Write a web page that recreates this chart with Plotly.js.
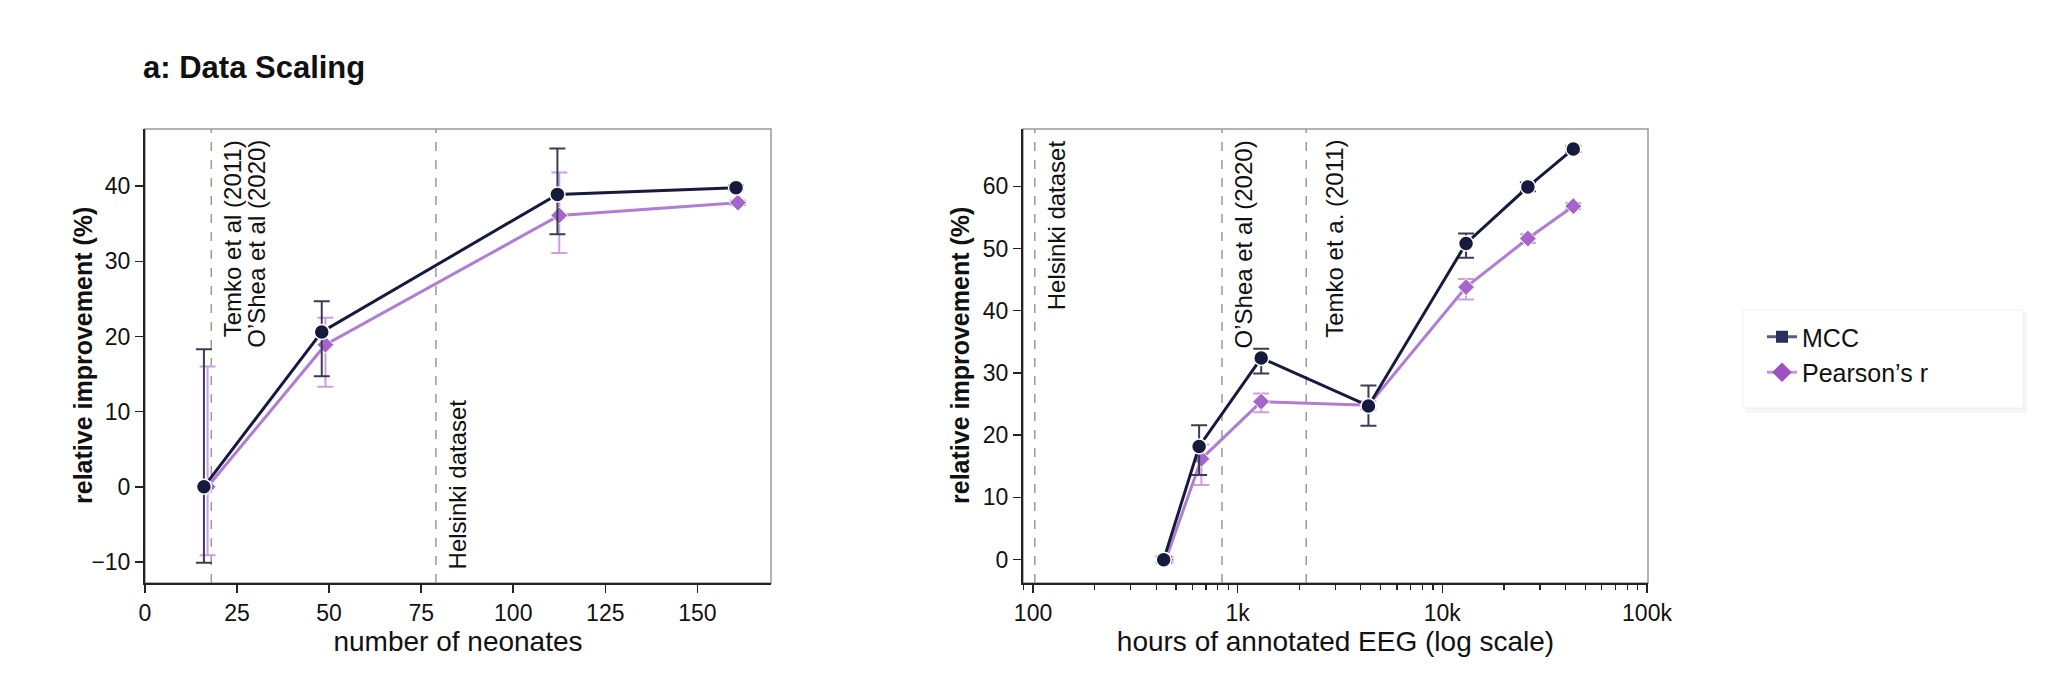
<!DOCTYPE html>
<html>
<head>
<meta charset="utf-8">
<script src="https://cdn.plot.ly/plotly-3.0.1.min.js"></script>
<style>
html,body{margin:0;padding:0;background:#fff;}
#chart{width:2065px;height:690px;}
</style>
</head>
<body>
<div id="chart"></div>
<script>
// ---- data: panel 1 (number of neonates) ----
const neonatesMCC = [16, 48, 112, 160.5];
const neonatesPear = [17, 49, 112.5, 161];
const mccNeo = [0, 20.6, 38.9, 39.8];
const mccNeoHi = [18.3, 24.7, 45.0, 40.1];
const mccNeoLo = [-10.1, 14.7, 33.6, 39.5];
const pearNeo = [0, 18.9, 36.1, 37.8];
const pearNeoHi = [16.0, 22.5, 41.8, 38.1];
const pearNeoLo = [-9.1, 13.3, 31.1, 37.5];
const neoRefX = [18, 79];

// ---- data: panel 2 (hours of annotated EEG) ----
const hoursMCC = [435, 648, 1303, 4355, 13060, 26190, 43650];
const hoursPear = [445, 665, 1303, 4355, 13060, 26190, 43650];
const mccHrs = [0, 18.2, 32.4, 24.7, 50.8, 59.9, 66.0];
const mccHrsHi = [0.5, 21.6, 33.9, 28.0, 52.4, 60.6, 66.5];
const mccHrsLo = [-0.5, 13.6, 29.9, 21.5, 48.5, 59.2, 65.5];
const pearHrs = [0, 16.2, 25.4, 24.8, 43.8, 51.6, 56.8];
const pearHrsHi = [0.4, 18.5, 26.7, 25.5, 45.1, 52.3, 57.3];
const pearHrsLo = [-0.4, 12.0, 23.7, 24.1, 41.8, 50.9, 56.3];
const hrsRefX = [102, 838, 2163];

const seriesNames = ["MCC", "Pearson\u2019s r"];

const W = 2065, H = 690;
const px = v => v / W, py = v => 1 - v / H;

const MCC_C = "#151a3e", MCC_ERR = "#3c3c52";
const PEAR_C = "#b07dd4", PEAR_M = "#a565cb", PEAR_ERR = "#c9a0e2";

function plus(hi, v){ return hi.map((h,i)=>h - v[i]); }
function minus(lo, v){ return lo.map((l,i)=>v[i] - l); }

function series(x, y, hi, lo, xa, ya, isMCC){
  return {
    type: "scatter", mode: "lines+markers", x: x, y: y, xaxis: xa, yaxis: ya,
    showlegend: false, cliponaxis: false,
    line: {color: isMCC ? MCC_C : PEAR_C, width: 3},
    marker: isMCC ? {symbol: "circle", size: 15, color: MCC_C, line: {color: "#ffffff", width: 1.5}}
                  : {symbol: "diamond", size: 13, color: PEAR_M, line: {color: "#ffffff", width: 1}},
    error_y: {type: "data", symmetric: false, array: plus(hi, y), arrayminus: minus(lo, y),
              color: isMCC ? MCC_ERR : PEAR_ERR, thickness: 2, width: 8}
  };
}

const traces = [
  series(neonatesPear, pearNeo, pearNeoHi, pearNeoLo, "x", "y", false),
  series(neonatesMCC, mccNeo, mccNeoHi, mccNeoLo, "x", "y", true),
  series(hoursPear, pearHrs, pearHrsHi, pearHrsLo, "x2", "y2", false),
  series(hoursMCC, mccHrs, mccHrsHi, mccHrsLo, "x2", "y2", true),
  // legend entries
  {type: "scatter", mode: "lines+markers", x: [null], y: [null], xaxis: "x2", yaxis: "y2",
   name: seriesNames[0], legendgroup: "a", showlegend: true,
   line: {color: "#5b5b7c", width: 3}, marker: {symbol: "square", size: 12, color: "#2b2d5e"}},
  {type: "scatter", mode: "lines+markers", x: [null], y: [null], xaxis: "x2", yaxis: "y2",
   name: seriesNames[1], legendgroup: "b", showlegend: true,
   line: {color: "#c693e2", width: 3}, marker: {symbol: "diamond", size: 15, color: "#9c50c4"}}
];

const tickFont = {family: "Liberation Sans, Arial, sans-serif", size: 23, color: "#111"};
const titleFont = {family: "Liberation Sans, Arial, sans-serif", size: 28, color: "#111"};
const ytitleFont = {family: "Liberation Sans, Arial, sans-serif", size: 25, color: "#111", weight: "bold"};
const annFont = {family: "Liberation Sans, Arial, sans-serif", size: 24, color: "#111"};

const axBase = {
  showgrid: false, zeroline: false, showline: true, linecolor: "#222", linewidth: 2,
  ticks: "outside", ticklen: 8, tickwidth: 1.5, tickcolor: "#222", tickfont: tickFont
};

const dom1 = [px(145), px(771)], dom2 = [px(1023), px(1648)], domY = [py(583), py(129)];

const shapes = [];
// frame boxes
[["x","y"],["x2","y2"]].forEach(([xa,ya])=>{
  shapes.push({type:"rect", xref: xa+" domain", yref: ya+" domain", x0:0, x1:1, y0:0, y1:1,
    line:{color:"#9a9a9a", width:1.5}, layer:"below"});
});
neoRefX.forEach(v=>shapes.push({type:"line", xref:"x", yref:"y domain", x0:v, x1:v, y0:0, y1:1,
  line:{color:"#9a9a9a", width:1.5, dash:"dash"}, layer:"below"}));
hrsRefX.forEach(v=>shapes.push({type:"line", xref:"x2", yref:"y2 domain", x0:v, x1:v, y0:0, y1:1,
  line:{color:"#9a9a9a", width:1.5, dash:"dash"}, layer:"below"}));
// legend box + shadow
shapes.push({type:"rect", xref:"paper", yref:"paper", x0:px(1745), x1:px(2027), y0:py(413), y1:py(312),
  fillcolor:"rgba(0,0,0,0.035)", line:{width:0}, layer:"above"});
shapes.push({type:"rect", xref:"paper", yref:"paper", x0:px(1743), x1:px(2023), y0:py(408), y1:py(310),
  fillcolor:"#ffffff", line:{color:"#f0f0f0", width:1}, layer:"above"});

const annotations = [
  {text:"Temko et al (2011)", xref:"x", yref:"y domain", x:neoRefX[0], y:1, xanchor:"left", yanchor:"top",
   xshift:6, yshift:-9, textangle:-90, showarrow:false, font:annFont},
  {text:"O\u2019Shea et al (2020)", xref:"x", yref:"y domain", x:neoRefX[0], y:1, xanchor:"left", yanchor:"top",
   xshift:29, yshift:-9, textangle:-90, showarrow:false, font:annFont},
  {text:"Helsinki dataset", xref:"x", yref:"y domain", x:neoRefX[1], y:0, xanchor:"left", yanchor:"bottom",
   xshift:6, yshift:12, textangle:-90, showarrow:false, font:annFont},
  {text:"Helsinki dataset", xref:"x2", yref:"y2 domain", x:Math.log10(hrsRefX[0]), y:1, xanchor:"left", yanchor:"top",
   xshift:6, yshift:-9, textangle:-90, showarrow:false, font:annFont},
  {text:"O\u2019Shea et al (2020)", xref:"x2", yref:"y2 domain", x:Math.log10(hrsRefX[1]), y:1, xanchor:"left", yanchor:"top",
   xshift:6, yshift:-9, textangle:-90, showarrow:false, font:annFont},
  {text:"Temko et a. (2011)", xref:"x2", yref:"y2 domain", x:Math.log10(hrsRefX[2]), y:1, xanchor:"left", yanchor:"top",
   xshift:12, yshift:-9, textangle:-90, showarrow:false, font:annFont},
  // y-axis titles
  {text:"relative improvement (%)", xref:"paper", yref:"paper", x:px(83), y:py(356), xanchor:"center", yanchor:"middle",
   textangle:-90, showarrow:false, font:ytitleFont},
  {text:"relative improvement (%)", xref:"paper", yref:"paper", x:px(960), y:py(356), xanchor:"center", yanchor:"middle",
   textangle:-90, showarrow:false, font:ytitleFont}
];

const layout = {
  width: W, height: H, margin: {l:0, r:0, t:0, b:0},
  paper_bgcolor: "#fff", plot_bgcolor: "#fff",
  title: {text: "a: Data Scaling", x: px(143), xanchor: "left", xref: "paper",
          y: py(67), yanchor: "middle", yref: "paper",
          font: {family: "Liberation Sans, Arial, sans-serif", size: 31, weight: "bold", color: "#111"}},
  xaxis: Object.assign({}, axBase, {domain: dom1, anchor: "y", range: [0, 170], tick0: 0, dtick: 25,
          title: {text: "number of neonates", font: titleFont, standoff: 6}}),
  yaxis: Object.assign({}, axBase, {domain: domY, anchor: "x", range: [-12.8, 47.6], tick0: 0, dtick: 10}),
  xaxis2: Object.assign({}, axBase, {domain: dom2, anchor: "y2", type: "log", range: [1.951, 5.005],
          dtick: 1, tickformat: "~s",
          minor: {ticks: "outside", ticklen: 5, tickwidth: 1.2, tickcolor: "#222", showgrid: false},
          title: {text: "hours of annotated EEG (log scale)", font: titleFont, standoff: 6}}),
  yaxis2: Object.assign({}, axBase, {domain: domY, anchor: "x2", range: [-3.75, 69.2], tick0: 0, dtick: 10}),
  showlegend: true,
  legend: {x: px(1762), y: py(314), xanchor: "left", yanchor: "top", bgcolor: "rgba(0,0,0,0)",
           borderwidth: 0, tracegroupgap: 10, traceorder: "normal",
           font: {family: "Liberation Sans, Arial, sans-serif", size: 25, color: "#111"}},
  shapes: shapes, annotations: annotations
};

Plotly.newPlot("chart", traces, layout, {displayModeBar: false, staticPlot: true});
</script>
</body>
</html>
